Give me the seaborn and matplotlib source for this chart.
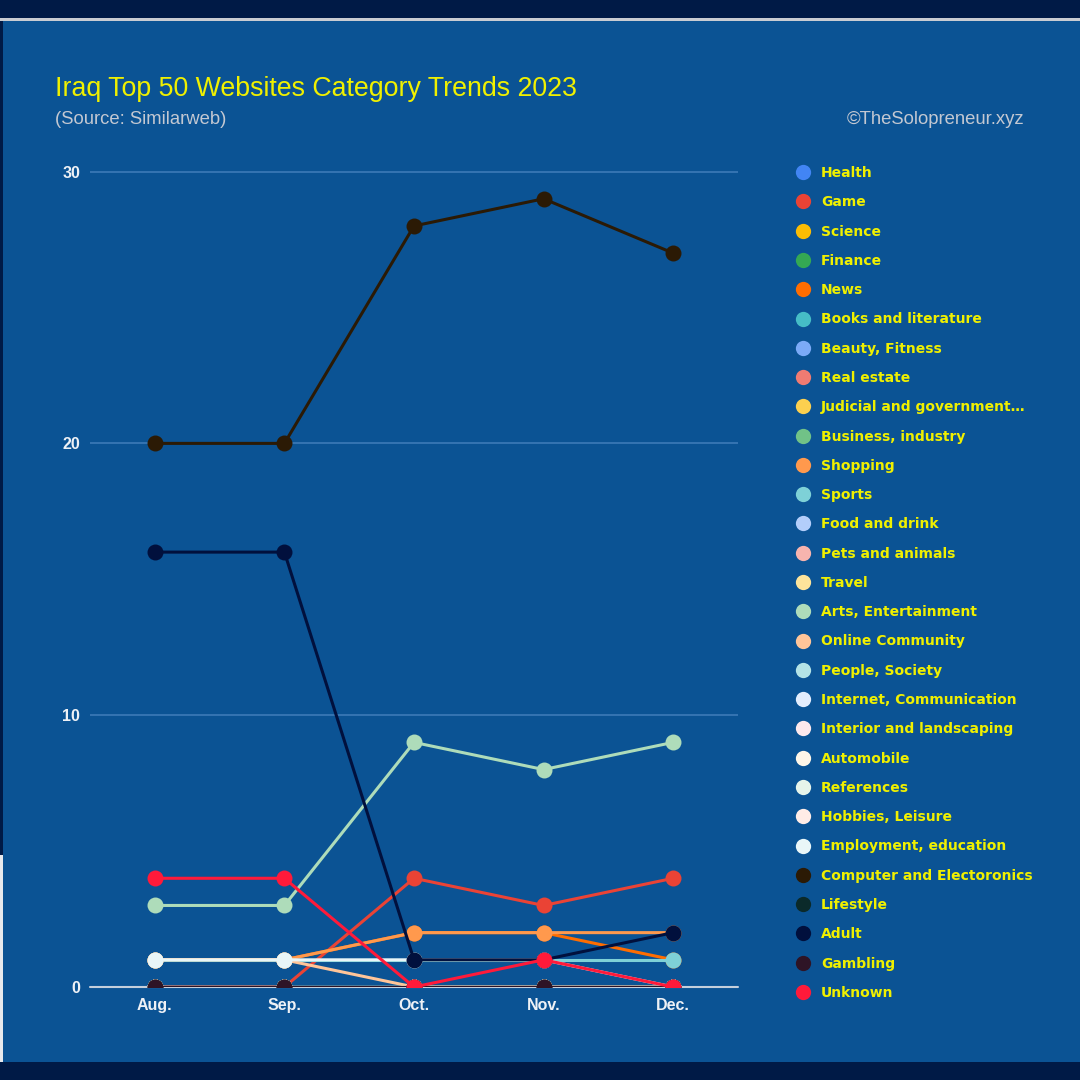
import matplotlib
matplotlib.use("Agg")
import matplotlib.pyplot as plt
import matplotlib.patches as mpatches
from matplotlib.lines import Line2D
import seaborn as sns
import pandas as pd

months = ["Aug.", "Sep.", "Oct.", "Nov.", "Dec."]

categories = [
    "Health", "Game", "Science", "Finance", "News", "Books and literature",
    "Beauty, Fitness", "Real estate", "Judicial and government…",
    "Business, industry", "Shopping", "Sports", "Food and drink",
    "Pets and animals", "Travel", "Arts, Entertainment", "Online Community",
    "People, Society", "Internet, Communication", "Interior and landscaping",
    "Automobile", "References", "Hobbies, Leisure", "Employment, education",
    "Computer and Electoronics", "Lifestyle", "Adult", "Gambling", "Unknown",
]

colors = [
    "#4285f4", "#ea4335", "#fbbc04", "#34a853", "#ff6d01", "#46bdc6",
    "#7baaf7", "#f07b72", "#fcd04f", "#71c287", "#ff994d", "#7ed1d7",
    "#b3cefb", "#f7b4ae", "#fde49b", "#aedcba", "#ffc599", "#b4e3e6",
    "#e3edfd", "#fde8ec", "#fff6e8", "#e6f4ea", "#ffece6", "#e9f6f8",
    "#2b1a05", "#0b2a2a", "#01103d", "#2e1426", "#ff1a3a",
]

health = [0, 0, 0, 0, 0]
game = [0, 0, 4, 3, 4]
science = [0, 0, 0, 0, 0]
finance = [0, 0, 0, 0, 0]
news = [1, 1, 2, 2, 1]
books = [0, 0, 0, 0, 0]
beauty = [0, 0, 0, 0, 0]
real_estate = [0, 0, 0, 0, 0]
judicial = [0, 0, 0, 0, 0]
business = [0, 0, 0, 0, 0]
shopping = [1, 1, 2, 2, 2]
sports = [1, 1, 1, 1, 1]
food = [0, 0, 0, 0, 0]
pets = [0, 0, 0, 0, 0]
travel = [0, 0, 0, 0, 0]
arts = [3, 3, 9, 8, 9]
online_community = [1, 1, 0, 0, 0]
people = [0, 0, 0, 0, 0]
internet = [0, 0, 0, 0, 0]
interior = [0, 0, 0, 0, 0]
automobile = [0, 0, 0, 0, 0]
references = [0, 0, 0, 0, 0]
hobbies = [0, 0, 0, 0, 0]
employment = [1, 1, 1, 1, 0]
computer = [20, 20, 28, 29, 27]
lifestyle = [0, 0, 0, 0, 0]
adult = [16, 16, 1, 1, 2]
gambling = [0, 0, 0, 0, 0]
unknown = [4, 4, 0, 1, 0]

series = [health, game, science, finance, news, books, beauty, real_estate,
          judicial, business, shopping, sports, food, pets, travel, arts,
          online_community, people, internet, interior, automobile, references,
          hobbies, employment, computer, lifestyle, adult, gambling, unknown]

rows = []
for cat, vals in zip(categories, series):
    for i, (m, v) in enumerate(zip(months, vals)):
        rows.append({"category": cat, "idx": i, "month": m, "value": v})
df = pd.DataFrame(rows)

BG = "#0b5394"
DARK = "#001a46"
YELLOW = "#f0f000"

sns.set_theme(style="white")
plt.rcParams["font.family"] = ["Liberation Sans", "DejaVu Sans"]

fig = plt.figure(figsize=(10.8, 10.8), dpi=100)
fig.patch.set_facecolor(DARK)
# panel
fig.patches.append(mpatches.Rectangle((3 / 1080, 18 / 1080), 1 - 3 / 1080, (1080 - 21 - 18) / 1080,
                                      transform=fig.transFigure, facecolor=BG, edgecolor="none", zorder=-5))
fig.patches.append(mpatches.Rectangle((0, 18 / 1080), 3 / 1080, (1062 - 855) / 1080,
                                      transform=fig.transFigure, facecolor="#e8eaee", edgecolor="none", zorder=-5))
fig.patches.append(mpatches.Rectangle((0, (1080 - 21) / 1080), 1, 3 / 1080,
                                      transform=fig.transFigure, facecolor="#c9ccd2", edgecolor="none", zorder=-5))

ax = fig.add_axes([90 / 1080, 93 / 1080, 648 / 1080, (987 - 158) / 1080])
ax.set_facecolor("none")
ax.set_zorder(2)

for y in [10, 20, 30]:
    ax.axhline(y, color="#3d7ab8", lw=1.2, zorder=0)
ax.axhline(0, color="#c5cfdc", lw=1.5, zorder=0, clip_on=False)

sns.lineplot(data=df, x="idx", y="value", hue="category", hue_order=categories,
             palette=dict(zip(categories, colors)), marker="o", markersize=11.5,
             markeredgewidth=0, linewidth=2.2, sort=False, estimator=None,
             legend=False, ax=ax)

ax.set_xlim(-0.5, 4.5)
ax.set_ylim(0, 30.5)
ax.set_xticks(range(len(months)))
ax.set_xticklabels(months)
ax.set_yticks([0, 10, 20, 30])
ax.set_yticklabels(["0", "10", "20", "30"])
ax.tick_params(axis="both", length=0, labelsize=11.5, labelcolor="#eef1f6")
for lab in ax.get_xticklabels() + ax.get_yticklabels():
    lab.set_fontweight("bold")
ax.tick_params(axis="y", pad=7)
ax.tick_params(axis="x", pad=8)
ax.set_xlabel("")
ax.set_ylabel("")
for s in ax.spines.values():
    s.set_visible(False)

fig.text(55 / 1080, 1 - 89 / 1080, "Iraq Top 50 Websites Category Trends 2023",
         color=YELLOW, fontsize=19.3, va="center", ha="left")
fig.text(55 / 1080, 1 - 120 / 1080, "(Source: Similarweb)",
         color="#c3c8d2", fontsize=13.3, va="center", ha="left")
fig.text(1024 / 1080, 1 - 120 / 1080, "©TheSolopreneur.xyz",
         color="#c3c8d2", fontsize=13.3, va="center", ha="right")

handles = [Line2D([], [], marker="o", linestyle="", markersize=11,
                  markerfacecolor=c, markeredgewidth=0) for c in colors]
leg = fig.legend(handles, categories, loc="upper left",
                 bbox_to_anchor=(796 / 1080, 1 - 166 / 1080),
                 frameon=False, handlelength=1.0, handletextpad=0.8,
                 labelspacing=1.10, borderpad=0, borderaxespad=0,
                 prop={"family": "DejaVu Sans", "weight": "bold", "size": 10})
for t in leg.get_texts():
    t.set_color(YELLOW)

fig.savefig("out.png", dpi=100, facecolor=fig.get_facecolor())
